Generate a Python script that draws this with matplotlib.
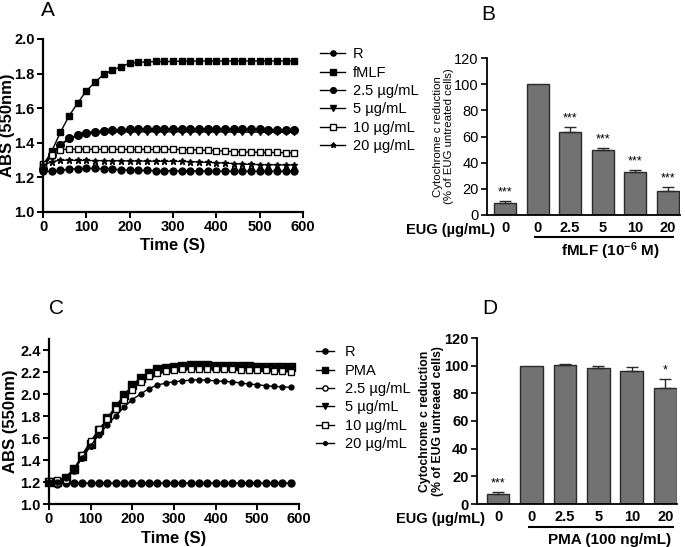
import matplotlib
matplotlib.use("Agg")
import matplotlib.pyplot as plt

plt.rcParams['font.family'] = ['Liberation Sans', 'DejaVu Sans']
plt.rcParams['mathtext.fontset'] = 'custom'
plt.rcParams['mathtext.rm'] = 'Liberation Sans:bold'
plt.rcParams['mathtext.bf'] = 'Liberation Sans:bold'
plt.rcParams['mathtext.it'] = 'Liberation Sans:bold'

# ---------------- data ----------------
time_s = [0, 20, 40, 60, 80, 100, 120, 140, 160, 180, 200, 220, 240, 260, 280,
          300, 320, 340, 360, 380, 400, 420, 440, 460, 480, 500, 520, 540, 560, 580]

a_labels = ['R', 'fMLF', '2.5 µg/mL', '5 µg/mL', '10 µg/mL', '20 µg/mL']
a_R = [1.235, 1.235, 1.24, 1.248, 1.25, 1.252, 1.252, 1.25, 1.247, 1.244, 1.242, 1.241, 1.24, 1.239, 1.238,
       1.238, 1.237, 1.237, 1.237, 1.236, 1.236, 1.236, 1.235, 1.235, 1.235, 1.235, 1.235, 1.235, 1.235, 1.235]
a_fmlf = [1.27, 1.35, 1.46, 1.555, 1.63, 1.70, 1.75, 1.795, 1.82, 1.84, 1.86, 1.865, 1.868, 1.87, 1.87,
          1.87, 1.872, 1.872, 1.873, 1.873, 1.873, 1.873, 1.873, 1.873, 1.873, 1.873, 1.873, 1.873, 1.873, 1.873]
a_2_5 = [1.25, 1.33, 1.39, 1.425, 1.445, 1.458, 1.465, 1.47, 1.474, 1.476, 1.478, 1.48, 1.481, 1.481, 1.481,
         1.481, 1.481, 1.48, 1.48, 1.48, 1.479, 1.479, 1.478, 1.478, 1.477, 1.477, 1.476, 1.476, 1.475, 1.475]
a_5 = [1.26, 1.33, 1.385, 1.42, 1.44, 1.452, 1.458, 1.461, 1.462, 1.463, 1.463, 1.464, 1.464, 1.464, 1.464,
       1.464, 1.464, 1.464, 1.463, 1.463, 1.463, 1.463, 1.462, 1.462, 1.462, 1.462, 1.461, 1.461, 1.461, 1.461]
a_10 = [1.28, 1.33, 1.36, 1.363, 1.363, 1.363, 1.362, 1.362, 1.362, 1.362, 1.362, 1.362, 1.362, 1.362, 1.362,
        1.362, 1.361, 1.36, 1.358, 1.356, 1.354, 1.352, 1.349, 1.347, 1.346, 1.345, 1.344, 1.344, 1.343, 1.343]
a_20 = [1.27, 1.29, 1.30, 1.299, 1.298, 1.298, 1.297, 1.297, 1.296, 1.296, 1.295, 1.295, 1.294, 1.294, 1.293,
        1.293, 1.292, 1.291, 1.289, 1.287, 1.285, 1.283, 1.28, 1.277, 1.275, 1.274, 1.273, 1.273, 1.272, 1.272]

c_labels = ['R', 'PMA', '2.5 µg/mL', '5 µg/mL', '10 µg/mL', '20 µg/mL']
c_R = [1.2, 1.185, 1.19, 1.19, 1.19, 1.19, 1.19, 1.192, 1.19, 1.19, 1.19, 1.19, 1.19, 1.19, 1.19,
       1.19, 1.19, 1.19, 1.19, 1.19, 1.19, 1.19, 1.19, 1.19, 1.19, 1.19, 1.19, 1.19, 1.19, 1.19]
c_pma = [1.2, 1.2, 1.24, 1.32, 1.44, 1.55, 1.67, 1.78, 1.89, 1.99, 2.08, 2.15, 2.19, 2.225, 2.24,
         2.25, 2.255, 2.26, 2.26, 2.26, 2.258, 2.256, 2.255, 2.254, 2.252, 2.25, 2.25, 2.248, 2.246, 2.245]
c_2_5 = [1.2, 1.19, 1.23, 1.31, 1.43, 1.54, 1.66, 1.77, 1.87, 1.97, 2.06, 2.13, 2.18, 2.21, 2.23,
         2.24, 2.245, 2.25, 2.25, 2.25, 2.25, 2.248, 2.246, 2.245, 2.244, 2.243, 2.242, 2.241, 2.24, 2.24]
c_5 = [1.2, 1.2, 1.24, 1.32, 1.42, 1.53, 1.65, 1.76, 1.87, 1.97, 2.06, 2.13, 2.18, 2.21, 2.23,
       2.24, 2.245, 2.245, 2.245, 2.245, 2.243, 2.241, 2.24, 2.238, 2.236, 2.235, 2.233, 2.232, 2.23, 2.23]
c_10 = [1.21, 1.22, 1.22, 1.31, 1.45, 1.57, 1.68, 1.77, 1.86, 1.95, 2.04, 2.11, 2.16, 2.19, 2.21,
        2.22, 2.225, 2.23, 2.23, 2.23, 2.23, 2.228, 2.225, 2.222, 2.22, 2.218, 2.215, 2.21, 2.205, 2.20]
c_20 = [1.2, 1.2, 1.24, 1.31, 1.42, 1.53, 1.63, 1.72, 1.80, 1.88, 1.95, 2.0, 2.05, 2.08, 2.10,
        2.11, 2.12, 2.125, 2.13, 2.125, 2.12, 2.115, 2.11, 2.10, 2.09, 2.085, 2.075, 2.07, 2.065, 2.06]

bar_cats = ['0', '0', '2.5', '5', '10', '20']
b_vals = [9, 100, 63.5, 50, 32.5, 18.5]
b_errs = [2, 0, 4, 1, 2, 3]
b_sig = ['***', '', '***', '***', '***', '***']
d_vals = [7, 100, 100.5, 98, 96, 83.5]
d_errs = [1.5, 0, 1, 1.5, 3, 7]
d_sig = ['***', '', '', '', '', '*']

# ---------------- figure ----------------
W, H = 685, 547
fig = plt.figure(figsize=(W / 100, H / 100), dpi=100)


def box(l, r, t, b):
    return [l / W, 1 - b / H, (r - l) / W, (b - t) / H]


def style_line_axes(ax):
    for s in ['top', 'right']:
        ax.spines[s].set_visible(False)
    for s in ['left', 'bottom']:
        ax.spines[s].set_linewidth(1.6)
    ax.tick_params(direction='out', width=1.4, length=4, labelsize=10.5, pad=2)
    for lab in ax.get_xticklabels() + ax.get_yticklabels():
        lab.set_fontweight('bold')


# ---- Panel A ----
axA = fig.add_axes(box(43, 303, 39, 212))
seriesA = [a_R, a_fmlf, a_2_5, a_5, a_10, a_20]
stylesA = [dict(marker='o', mfc='black', ms=5),
           dict(marker='s', mfc='black', ms=5),
           dict(marker='o', mfc='black', ms=5.5),
           dict(marker='v', mfc='black', ms=5),
           dict(marker='s', mfc='white', ms=5),
           dict(marker='*', mfc='black', ms=5)]
for y, lab, st in zip(seriesA, a_labels, stylesA):
    axA.plot(time_s, y, color='black', lw=1, mec='black', label=lab, clip_on=False, **st)
axA.set_xlim(0, 600)
axA.set_ylim(1.0, 2.0)
axA.set_xticks([0, 100, 200, 300, 400, 500, 600])
axA.set_yticks([1.0, 1.2, 1.4, 1.6, 1.8, 2.0])
axA.set_yticklabels(['1.0', '1.2', '1.4', '1.6', '1.8', '2.0'])
style_line_axes(axA)
axA.set_xlabel('Time (S)', fontsize=12, fontweight='bold', labelpad=3)
axA.set_ylabel('ABS (550nm)', fontsize=12, fontweight='bold')
axA.yaxis.set_label_coords(-0.107, 0.5)
axA.legend(loc='upper left', bbox_to_anchor=(313 / W, 1 - 40 / H), bbox_transform=fig.transFigure,
           frameon=False, fontsize=10.5, handlelength=1.7, handletextpad=0.55, labelspacing=0.3,
           markerscale=0.75, borderpad=0)

# ---- Panel C ----
axC = fig.add_axes(box(49, 299, 339, 504))
seriesC = [c_R, c_pma, c_2_5, c_5, c_10, c_20]
stylesC = [dict(marker='o', mfc='black', ms=5),
           dict(marker='s', mfc='black', ms=5.5),
           dict(marker='o', mfc='white', ms=5),
           dict(marker='v', mfc='black', ms=5),
           dict(marker='s', mfc='white', ms=5),
           dict(marker='o', mfc='black', ms=3.5)]
for y, lab, st in zip(seriesC, c_labels, stylesC):
    axC.plot(time_s, y, color='black', lw=1, mec='black', label=lab, clip_on=False, **st)
axC.set_xlim(0, 600)
axC.set_ylim(1.0, 2.5)
axC.set_xticks([0, 100, 200, 300, 400, 500, 600])
axC.set_yticks([1.0, 1.2, 1.4, 1.6, 1.8, 2.0, 2.2, 2.4])
axC.set_yticklabels(['1.0', '1.2', '1.4', '1.6', '1.8', '2.0', '2.2', '2.4'])
style_line_axes(axC)
axC.set_xlabel('Time (S)', fontsize=12, fontweight='bold', labelpad=3)
axC.set_ylabel('ABS (550nm)', fontsize=12, fontweight='bold')
axC.yaxis.set_label_coords(-0.125, 0.5)
axC.legend(loc='upper left', bbox_to_anchor=(309 / W, 1 - 338 / H), bbox_transform=fig.transFigure,
           frameon=False, fontsize=10.5, handlelength=1.2, handletextpad=0.75, labelspacing=0.3,
           markerscale=0.75, borderpad=0)


# ---- Bar panels ----
def bar_panel(rect, vals, errs, sig, xlim, ylabel_lines, bold_y, ylab_fs, ylab_x, eug_xy, treat,
              underline_px, treat_xy):
    ax = fig.add_axes(rect)
    xs = list(range(len(vals)))
    ax.bar(xs, vals, width=0.68, color='#727272', edgecolor='#2a2a2a', linewidth=1.0, zorder=2)
    for x, v, e, s in zip(xs, vals, errs, sig):
        if e > 0:
            ax.errorbar(x, v, yerr=[[0], [e]], fmt='none', ecolor='#2a2a2a', elinewidth=1,
                        capsize=4, capthick=1, zorder=3)
        if s:
            ax.text(x, v + e + 2.0, s, ha='center', va='bottom', fontsize=9)
    ax.set_xlim(*xlim)
    ax.set_ylim(0, 120)
    ax.set_yticks([0, 20, 40, 60, 80, 100, 120])
    ax.set_xticks(xs)
    ax.set_xticklabels(bar_cats)
    for s in ['top', 'right']:
        ax.spines[s].set_visible(False)
    ax.spines['left'].set_linewidth(1.3)
    ax.spines['bottom'].set_linewidth(1.3)
    ax.tick_params(axis='y', direction='out', width=1.2, length=4, labelsize=10.5, pad=2)
    ax.tick_params(axis='x', length=0, labelsize=10.5, pad=4)
    for lab in ax.get_xticklabels():
        lab.set_fontweight('bold')
    for lab in ax.get_yticklabels():
        lab.set_fontweight('bold' if bold_y else 'normal')
    ax.set_ylabel(ylabel_lines, fontsize=ylab_fs, fontweight='bold' if bold_y else 'normal',
                  linespacing=1.15)
    ax.yaxis.set_label_coords(ylab_x, 0.5)
    ax.text(eug_xy[0], eug_xy[1], 'EUG (µg/mL)', transform=ax.transAxes, ha='right', va='center',
            fontsize=10.5, fontweight='bold')
    x0, x1, yl = underline_px
    fig.add_artist(plt.Line2D([x0 / W, x1 / W], [1 - yl / H, 1 - yl / H], color='black', lw=1.5))
    fig.text(treat_xy[0] / W, 1 - treat_xy[1] / H, treat, ha='center', va='center',
             fontsize=11, fontweight='bold')
    return ax


axB = bar_panel(box(487, 680, 58, 215), b_vals, b_errs, b_sig, (-0.56, 5.38),
                'Cytochrome c reduction\n(% of EUG untreated cells)', False, 8.2, -0.17,
                (0.04, -0.098),
                r'fMLF (10$^{\mathbf{-6}}$ M)', (535, 673, 237), (610, 251))
axD = bar_panel(box(477, 677, 338, 504), d_vals, d_errs, d_sig, (-0.63, 5.35),
                'Cytochrome c reduction\n(% of EUG untreaed cells)', True, 8.8, -0.165,
                (0.04, -0.088),
                'PMA (100 ng/mL)', (529, 673, 527), (610, 540))

# Panel letters
for letter, x, y in [('A', 48, 11), ('B', 488, 15), ('C', 57, 308), ('D', 490, 308)]:
    fig.text(x / W, 1 - y / H, letter, ha='center', va='center', fontsize=15)

fig.savefig('out.png', dpi=100)
